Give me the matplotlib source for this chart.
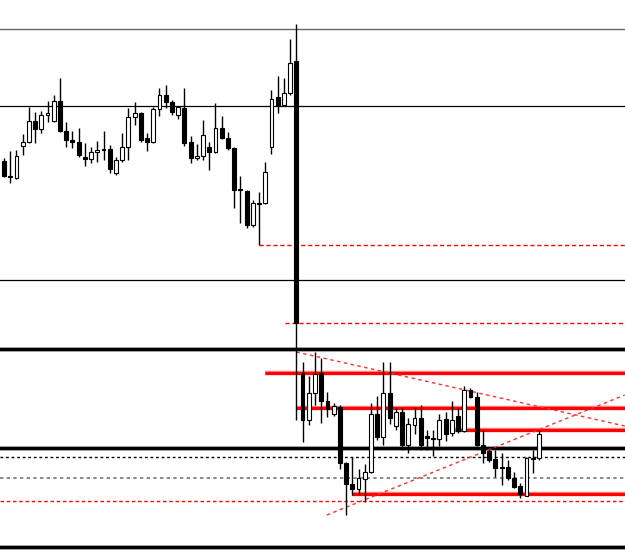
#!/usr/bin/python3
# -*- coding: utf-8 -*-
"""
Candlestick chart with support / resistance levels and trend lines
(levels are read in chart units, axis runs top-down like the screen)
"""

import numpy as np
import matplotlib.pyplot as plt


# OHLC per bar, chart units (small value = high on the chart)
opens = [161, 176, 178, 146, 142, 121, 129, 115, 121, 101,
         131, 140, 142, 157, 159, 152, 149, 149, 173, 160,
         147, 117, 113, 138, 142, 109, 95, 102, 115, 108,
         142, 158, 156, 147, 152, 128, 138, 148, 189, 191,
         225, 204, 203, 147, 97, 105, 93, 61, 373, 420,
         393, 373, 401, 414, 407, 463, 484, 489, 479, 472,
         414, 437, 393, 426, 412, 445, 425, 418, 436, 438,
         439, 419, 433, 416, 431, 390, 397, 445, 451, 459,
         467, 467, 478, 486, 496, 458, 458]
highs = [158, 151, 150, 134, 107, 112, 111, 101, 95, 78,
         122, 131, 128, 143, 147, 141, 131, 145, 157, 133,
         108, 102, 112, 133, 107, 88, 85, 100, 106, 88,
         136, 144, 120, 142, 103, 116, 132, 147, 176, 190,
         200, 192, 162, 90, 76, 78, 39, 24, 362, 376,
         352, 358, 392, 403, 405, 462, 457, 469, 464, 403,
         396, 362, 362, 408, 408, 418, 407, 405, 430, 430,
         414, 412, 401, 408, 386, 388, 392, 430, 449, 450,
         453, 460, 472, 483, 457, 450, 430]
lows = [177, 183, 179, 155, 143, 143, 133, 122, 122, 132,
        147, 148, 157, 166, 163, 162, 160, 173, 175, 162,
        160, 125, 142, 151, 143, 116, 108, 115, 119, 146,
        163, 160, 160, 170, 153, 139, 150, 208, 223, 228,
        227, 245, 204, 154, 113, 106, 95, 420, 442, 425,
        405, 423, 417, 416, 469, 515, 495, 495, 502, 473,
        440, 445, 424, 430, 450, 453, 434, 450, 450, 456,
        446, 441, 436, 433, 432, 398, 446, 463, 462, 477,
        485, 480, 488, 498, 496, 473, 460]
closes = [176, 177, 156, 142, 121, 129, 115, 113, 101, 131,
          140, 142, 155, 159, 152, 150, 150, 169, 160, 147,
          117, 113, 140, 142, 109, 95, 102, 112, 107, 143,
          158, 156, 135, 152, 128, 138, 148, 190, 190, 225,
          203, 203, 172, 99, 105, 93, 63, 323, 420, 393,
          374, 401, 409, 406, 463, 484, 489, 478, 472, 414,
          437, 393, 418, 412, 445, 424, 418, 445, 438, 439,
          420, 434, 420, 431, 390, 397, 445, 453, 460, 468,
          468, 478, 487, 494, 458, 459, 434]

# full width levels
thin_levels = [106, 280]
top_level = 29
thick_levels = [349, 448, 547]
black_dotted = 457
gray_dotted = 478
red_dotted = 501

# red levels: (level, first bar)
red_levels = [(373, 42), (408, 47), (430, 72.5), (494, 56)]
red_dashed = [(245, 41), (323, 45.2)]

# red trend lines: (bar, level) anchor pairs
trend_down = [(47, 352), (99.8, 426)]
trend_up = [(51.9, 515), (99.8, 395)]


def draw_candles(ax):
    """
    Wicks as thin lines, bodies as narrow bars
    """
    n = len(opens)
    x = np.arange(n)
    o = np.array(opens)
    c = np.array(closes)
    ax.vlines(x, highs, lows, color='k', lw=1, zorder=2)
    bottom = np.minimum(o, c)
    height = np.maximum(np.abs(o - c), 1)
    face = ['white' if cc < oo else 'black' for oo, cc in zip(o, c)]
    ax.bar(x, height, bottom=bottom, width=0.62, color=face,
           edgecolor='k', lw=0.8, zorder=3)


fig = plt.figure(figsize=(6.25, 5.6), dpi=100)
ax = fig.add_axes([0, 0, 1, 1])
ax.set_xlim(-0.643, 99.84)
ax.set_ylim(560, 0)
ax.axis('off')

# horizontal levels
ax.axhline(top_level, color='#666666', lw=1, zorder=1)
for lv in thin_levels:
    ax.axhline(lv, color='k', lw=0.9, zorder=1)
for lv in thick_levels:
    ax.axhline(lv, color='#999999', lw=3.4, zorder=1)
    ax.axhline(lv, color='k', lw=2.2, zorder=1)
ax.axhline(black_dotted, color='k', lw=1, ls=(0, (2, 2)), zorder=1)
ax.axhline(gray_dotted, color='#777777', lw=1.2, ls=(0, (2, 2)), zorder=1)
ax.axhline(red_dotted, color='red', lw=1, ls=(0, (2.5, 2)), zorder=1)

for lv, start in red_levels:
    ax.hlines(lv, start, 99.84, color='#ff8080', lw=3.2, zorder=1)
    ax.hlines(lv, start, 99.84, color='red', lw=2.2, zorder=1)
for lv, start in red_dashed:
    ax.hlines(lv, start, 99.84, color='red', lw=1, ls=(0, (3, 2)), zorder=1)

# trend lines
for line in (trend_down, trend_up):
    xs, ys = zip(*line)
    ax.plot(xs, ys, color='#ff3030', lw=1, ls=(0, (2.5, 2.5)), zorder=1)

draw_candles(ax)

fig.savefig('out.png', dpi=100, facecolor='white')
